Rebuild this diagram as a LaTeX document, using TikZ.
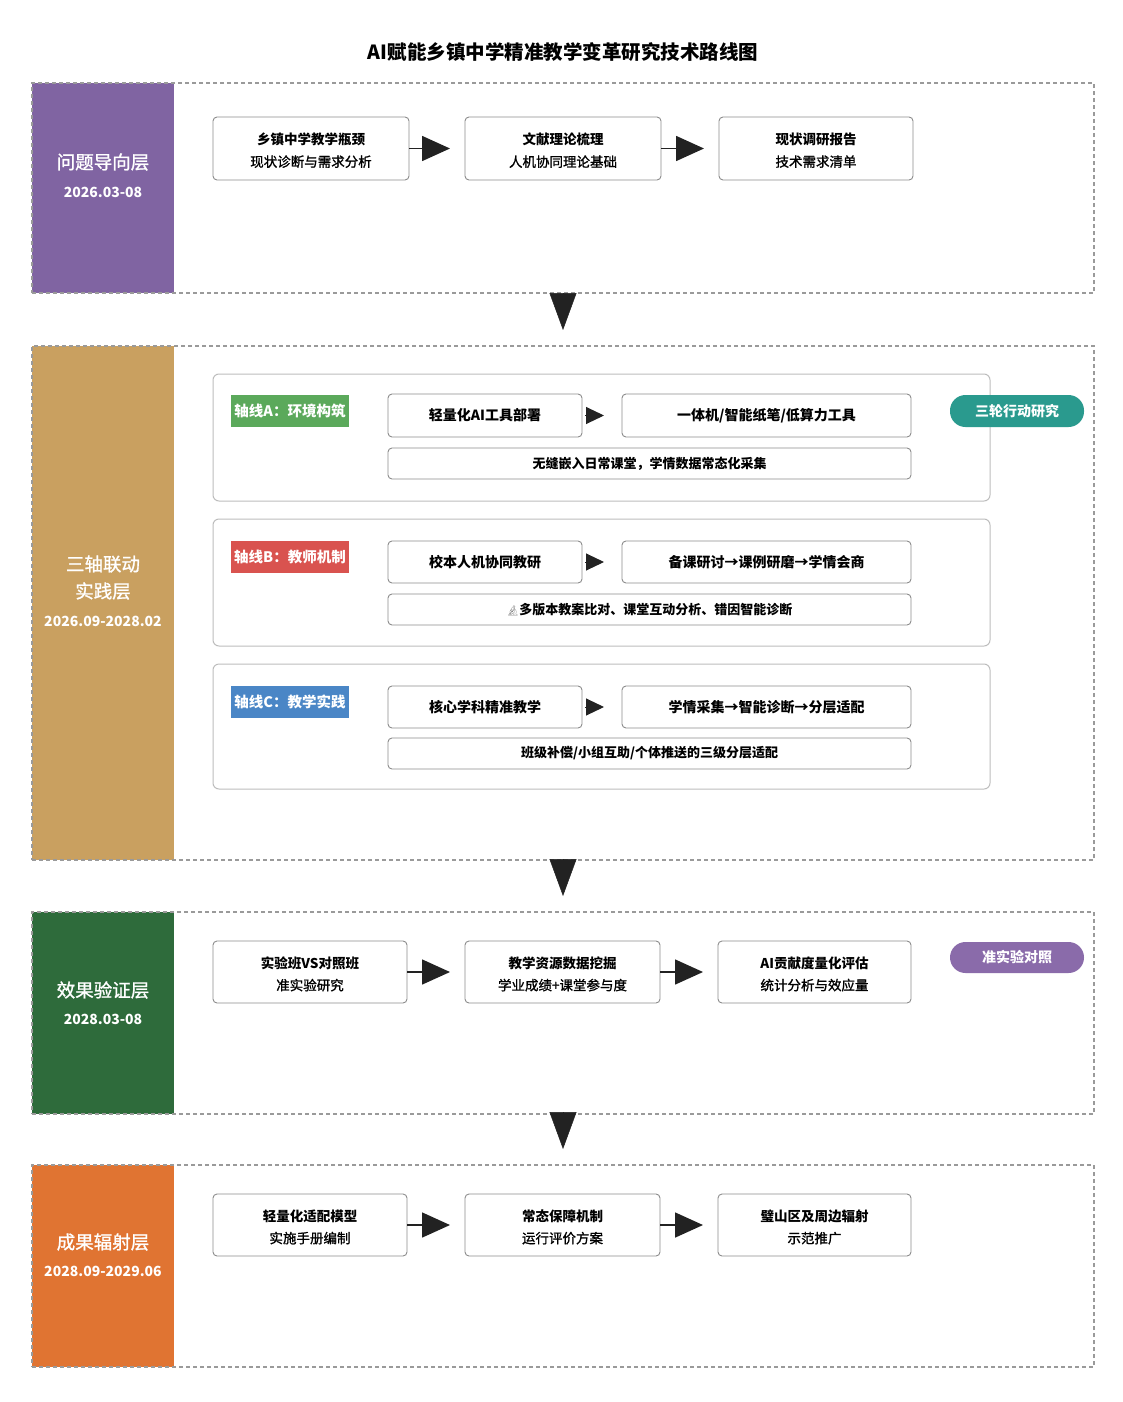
\documentclass[tikz,border=0pt]{standalone}
\usepackage{fontspec}
\setmainfont{Noto Sans CJK SC}
\newfontfamily\semibold[FakeBold=1.2]{Noto Sans CJK SC}
\newfontfamily\emojifont{Noto Emoji}
\usetikzlibrary{arrows.meta}
\definecolor{dashgray}{HTML}{9A9A9A}
\definecolor{boxgray}{HTML}{8C8C8C}
\definecolor{axisgray}{HTML}{BDBDBD}
\definecolor{cPurple}{HTML}{8064A2}
\definecolor{cTan}{HTML}{C9A060}
\definecolor{cGreen}{HTML}{2E6B3B}
\definecolor{cOrange}{HTML}{E07432}
\definecolor{tagGreen}{HTML}{5BA95B}
\definecolor{tagRed}{HTML}{D9534F}
\definecolor{tagBlue}{HTML}{4A86C6}
\definecolor{pillTeal}{HTML}{2A9A8E}
\definecolor{pillPurple}{HTML}{8A6BAA}
\definecolor{arrowdark}{HTML}{222222}
\tikzset{
  sz/.style 2 args={minimum width=#1pt, minimum height=#2pt},
  layerframe/.style={draw=dashgray, line width=1.1pt, dash pattern=on 4pt off 3pt, inner sep=0pt, outer sep=0pt, anchor=north west},
  layerblock/.style={fill=#1, inner sep=0pt, outer sep=0pt, anchor=north west, minimum width=142pt},
  layername/.style={text=white, font=\semibold\fontsize{18.5}{20}\selectfont, inner sep=0pt},
  layerdate/.style={text=white, font=\bfseries\fontsize{14}{16}\selectfont, inner sep=0pt},
  stepbox/.style={draw=boxgray, line width=0.9pt, rounded corners=4pt, fill=white, anchor=north west, align=center, inner sep=0pt, outer sep=0pt, font=\fontsize{13.5}{22}\selectfont},
  axisframe/.style={draw=axisgray, line width=1pt, rounded corners=6pt, fill=white, anchor=north west, inner sep=0pt, outer sep=0pt},
  subbox/.style={draw=boxgray, line width=0.9pt, rounded corners=4pt, fill=white, anchor=north west, align=center, inner sep=0pt, outer sep=0pt, font=\bfseries\fontsize{14}{16}\selectfont},
  subnote/.style={subbox, font=\bfseries\fontsize{13}{15}\selectfont},
  axistag/.style={fill=#1, text=white, anchor=north west, inner sep=0pt, outer sep=0pt, minimum width=118pt, minimum height=32pt, font=\bfseries\fontsize{14.5}{16}\selectfont},
  pill/.style={fill=#1, text=white, anchor=north west, inner sep=0pt, outer sep=0pt, rounded corners=15.5pt, font=\bfseries\fontsize{14}{16}\selectfont},
  flowarrow/.style={draw=arrowdark, line width=1.6pt, -{Triangle[length=28pt,width=25pt]}, shorten >=15pt, arrowdark},
  smallarrow/.style={draw=arrowdark, line width=1pt, -{Triangle[length=18pt,width=17pt]}, shorten >=18pt, shorten <=3pt, arrowdark},
  downarrow/.style={draw=arrowdark, line width=0.5pt, -{Triangle[length=37pt,width=27pt]}, shorten >=16pt, arrowdark},
}
\newcommand{\lowered}[1]{\raisebox{-2pt}[\height][\depth]{#1}}
\newcommand{\twoline}[2]{\lowered{\bfseries #1}\\\lowered{\semibold #2}}
\begin{document}
\begin{tikzpicture}[x=1pt,y=-1pt]
\useasboundingbox[fill=white] (0,0) rectangle (1122,1402);
\node[font=\bfseries\fontsize{19.5}{22}\selectfont] (title) at (563,52) {AI赋能乡镇中学精准教学变革研究技术路线图};

% ---------- Layer 1
\node[layerblock=cPurple, sz={142}{210}] (blk1) at (32,83) {};
\node[layerframe, sz={1062}{210}] (L1) at (32,83) {};
\node[layername] (n1) at (103,162) {问题导向层};
\node[layerdate] (d1) at (103,192) {2026.03-08};
\node[stepbox, sz={196}{63}] (p1) at (213,117) {\twoline{乡镇中学教学瓶颈}{现状诊断与需求分析}};
\node[stepbox, sz={196}{63}] (p2) at (465,117) {\twoline{文献理论梳理}{人机协同理论基础}};
\node[stepbox, sz={194}{63}] (p3) at (719,117) {\twoline{现状调研报告}{技术需求清单}};
\draw[flowarrow] (p1) -- (p2);
\draw[flowarrow] (p2) -- (p3);

% ---------- Layer 2
\node[layerblock=cTan, sz={142}{514}] (blk2) at (32,346) {};
\node[layerframe, sz={1062}{514}] (L2) at (32,346) {};
\node[layername] (n2a) at (103,564) {三轴联动};
\node[layername] (n2b) at (103,591) {实践层};
\node[layerdate] (d2) at (103,621) {2026.09-2028.02};

\node[axisframe, sz={777}{127}] (AA) at (213,374) {};
\node[axistag=tagGreen] (tA) at (231,395) {轴线A：环境构筑};
\node[subbox, sz={194}{43}] (a1) at (388,394) {轻量化AI工具部署};
\node[subbox, sz={289}{43}] (a2) at (622,394) {一体机/智能纸笔/低算力工具};
\node[subnote, sz={523}{31}] (a3) at (388,448) {无缝嵌入日常课堂，学情数据常态化采集};
\draw[smallarrow] (a1) -- (a2);
\node[pill=pillTeal, sz={134}{32}] (pl1) at (950,395) {三轮行动研究};

\node[axisframe, sz={777}{127}] (AB) at (213,519) {};
\node[axistag=tagRed] (tB) at (231,541) {轴线B：教师机制};
\node[subbox, sz={194}{42}] (b1) at (388,541) {校本人机协同教研};
\node[subbox, sz={289}{42}] (b2) at (622,541) {备课研讨→课例研磨→学情会商};
\node[subnote, sz={523}{31}] (b3) at (388,594) {{\emojifont\fontsize{10}{12}\selectfont\color{gray}🔬}多版本教案比对、课堂互动分析、错因智能诊断};
\draw[smallarrow] (b1) -- (b2);

\node[axisframe, sz={777}{125}] (AC) at (213,664) {};
\node[axistag=tagBlue] (tC) at (231,686) {轴线C：教学实践};
\node[subbox, sz={194}{42}] (c1) at (388,686) {核心学科精准教学};
\node[subbox, sz={289}{42}] (c2) at (622,686) {学情采集→智能诊断→分层适配};
\node[subnote, sz={523}{31}] (c3) at (388,738) {班级补偿/小组互助/个体推送的三级分层适配};
\draw[smallarrow] (c1) -- (c2);

% ---------- Layer 3
\node[layerblock=cGreen, sz={142}{202}] (blk3) at (32,912) {};
\node[layerframe, sz={1062}{202}] (L3) at (32,912) {};
\node[layername] (n3) at (103,990) {效果验证层};
\node[layerdate] (d3) at (103,1019) {2028.03-08};
\node[stepbox, sz={194}{62}] (v1) at (213,941) {\twoline{实验班VS对照班}{准实验研究}};
\node[stepbox, sz={195}{62}] (v2) at (465,941) {\twoline{教学资源数据挖掘}{学业成绩+课堂参与度}};
\node[stepbox, sz={193}{62}] (v3) at (718,941) {\twoline{AI贡献度量化评估}{统计分析与效应量}};
\draw[flowarrow] (v1) -- (v2);
\draw[flowarrow] (v2) -- (v3);
\node[pill=pillPurple, sz={134}{31}] (pl2) at (950,942) {准实验对照};

% ---------- Layer 4
\node[layerblock=cOrange, sz={142}{202}] (blk4) at (32,1165) {};
\node[layerframe, sz={1062}{202}] (L4) at (32,1165) {};
\node[layername] (n4) at (103,1242) {成果辐射层};
\node[layerdate] (d4) at (103,1271) {2028.09-2029.06};
\node[stepbox, sz={194}{62}] (r1) at (213,1194) {\twoline{轻量化适配模型}{实施手册编制}};
\node[stepbox, sz={195}{62}] (r2) at (465,1194) {\twoline{常态保障机制}{运行评价方案}};
\node[stepbox, sz={193}{62}] (r3) at (718,1194) {\twoline{璧山区及周边辐射}{示范推广}};
\draw[flowarrow] (r1) -- (r2);
\draw[flowarrow] (r2) -- (r3);

% ---------- Between layers
\draw[downarrow] (L1.south) -- (L2.north);
\draw[downarrow] (L2.south) -- (L3.north);
\draw[downarrow] (L3.south) -- (L4.north);
\end{tikzpicture}
\end{document}
